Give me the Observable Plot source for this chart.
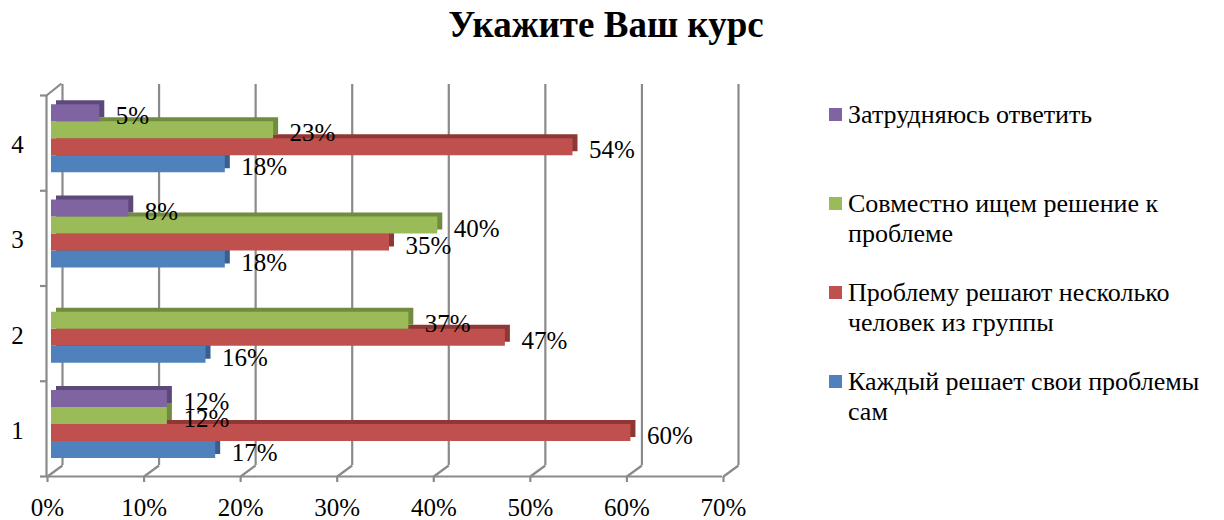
<!DOCTYPE html>
<html><head><meta charset="utf-8">
<script src="https://cdn.jsdelivr.net/npm/d3@7"></script>
<script src="https://cdn.jsdelivr.net/npm/@observablehq/plot@0.6"></script>
<style>
body{margin:0;background:#fff;color:#000;}
#wrap{width:1224px;height:520px;position:relative;overflow:hidden;font-family:'Liberation Serif';}
#title{height:60px;line-height:50px;text-align:center;font-weight:bold;font-size:37px;padding-right:12px;font-family:'Liberation Serif';}
#row{display:flex;}
#legend{padding-left:39px;padding-top:40px;}
.item{height:89px;display:flex;align-items:flex-start;}
.sw{width:13px;height:13px;margin-top:8px;margin-right:6px;flex:none;}
.lbl{font-size:26px;line-height:30px;width:370px;font-family:'Liberation Serif';}
</style></head><body>
<div id="wrap"><div id="title">Укажите Ваш курс</div><div id="row"><div id="chart"></div><div id="legend"></div></div></div>
<script>
// ---- data ----
const courses = ["1", "2", "3", "4"];
const seriesNames = [
  "Каждый решает свои проблемы сам",
  "Проблему решают несколько человек из группы",
  "Совместно ищем решение к проблеме",
  "Затрудняюсь ответить"
];
const seriesColors = ["#4f81bd", "#c0504d", "#9bbb59", "#8064a2"];
const seriesShade  = ["#385f8f", "#8e3735", "#718c3e", "#5c4879"];
const valuesSelf     = [17, 16, 18, 18];
const valuesSeveral  = [60, 47, 35, 54];
const valuesTogether = [12, 37, 40, 23];
const valuesUnsure   = [12, null, 8, 5];
const xTicks = [0, 10, 20, 30, 40, 50, 60, 70];
const xTickLabels = ["0%", "10%", "20%", "30%", "40%", "50%", "60%", "70%"];

// ---- geometry helpers ----
const FONT = "Liberation Serif";
const W = 790, H = 460, ML = 47, MR = 67, MT = 35, MB = 44;
const PXX = (W - ML - MR) / 70;      // px per percent
const PXY = (H - MT - MB) / 4;        // px per category band
const DX = 15 / PXX, DY = 11 / PXY;   // wall depth in data units
const BAR = 17 / PXY, BAR0 = 18 / PXY;
const GRID = "#8a8a8a";

const allSeries = [valuesSelf, valuesSeveral, valuesTogether, valuesUnsure];
const bars = [];
allSeries.forEach((vals, k) => vals.forEach((v, i) => {
  if (v == null) return;
  const y1 = i + BAR0 + k * BAR;
  bars.push({k, course: courses[i], v, y1, y2: y1 + BAR});
}));

const barMarks = [];
for (let k = 0; k < 4; k++) {
  const d = bars.filter(b => b.k === k);
  barMarks.push(Plot.rect(d, {x1: 0, x2: "v", y1: "y1", y2: "y2", dx: 9, dy: -4, fill: seriesShade[k]}));
  barMarks.push(Plot.rect(d, {x1: 0, x2: "v", y1: "y1", y2: "y2", dx: 4, fill: seriesColors[k]}));
}

const chart = Plot.plot({
  width: W, height: H,
  marginLeft: ML, marginRight: MR, marginTop: MT, marginBottom: MB,
  x: {domain: [0, 70], axis: null},
  y: {domain: [0, 4], axis: null},
  style: {fontFamily: FONT, background: "white", color: "#000", overflow: "visible"},
  marks: [
    // back wall gridlines
    Plot.ruleX(xTicks, {x: d => d, y1: 0, y2: 4, dx: 15, dy: -11, stroke: GRID, strokeWidth: 2.2}),
    // floor diagonals
    Plot.link(xTicks, {x1: d => d, y1: 0, x2: d => d + DX, y2: DY, stroke: GRID, strokeWidth: 2.2}),
    // front floor edge
    Plot.ruleY([0], {x1: 0, x2: 70, dx: -1, stroke: GRID, strokeWidth: 2.2}),
    Plot.ruleX(xTicks, {x: d => d, y1: 0, y2: -6 / PXY, stroke: GRID, strokeWidth: 2.2}),
    // left wall front edge + ticks + top diagonal
    Plot.ruleX([0], {y1: 0, y2: 4, dx: -1, stroke: GRID, strokeWidth: 2.2}),
    Plot.ruleY([0, 1, 2, 3, 4], {x1: -6 / PXX, x2: 0, dx: -1, stroke: GRID, strokeWidth: 2.2}),
    Plot.link([4], {x1: 0, y1: 4, x2: DX, y2: d => d + 12 / PXY, dx: -1, stroke: GRID, strokeWidth: 2.2}),
    ...barMarks,
    // data labels
    Plot.text(bars, {x: "v", y: d => (d.y1 + d.y2) / 2, text: d => d.v + "%", dx: 20, dy: 3,
      textAnchor: "start", fontSize: 25, fontFamily: FONT, fill: "#000"}),
    // category labels
    Plot.text(courses, {x: 0, y: (d, i) => i + 0.5, text: d => d, dx: -30, dy: 2, fontSize: 25, fontFamily: FONT, fill: "#000"}),
    // percent tick labels
    Plot.text(xTicks, {x: d => d, y: 0, text: (d, i) => xTickLabels[i], dy: 31, fontSize: 25, fontFamily: FONT, fill: "#000"})
  ]
});
document.getElementById("chart").appendChild(chart);

// legend (top to bottom: reversed series order)
const legend = document.getElementById("legend");
for (let k = 3; k >= 0; k--) {
  const item = document.createElement("div");
  item.className = "item";
  const sw = document.createElement("div");
  sw.className = "sw"; sw.style.background = seriesColors[k];
  const lbl = document.createElement("div");
  lbl.className = "lbl"; lbl.textContent = seriesNames[k];
  item.appendChild(sw); item.appendChild(lbl);
  legend.appendChild(item);
}
</script>
</body></html>
